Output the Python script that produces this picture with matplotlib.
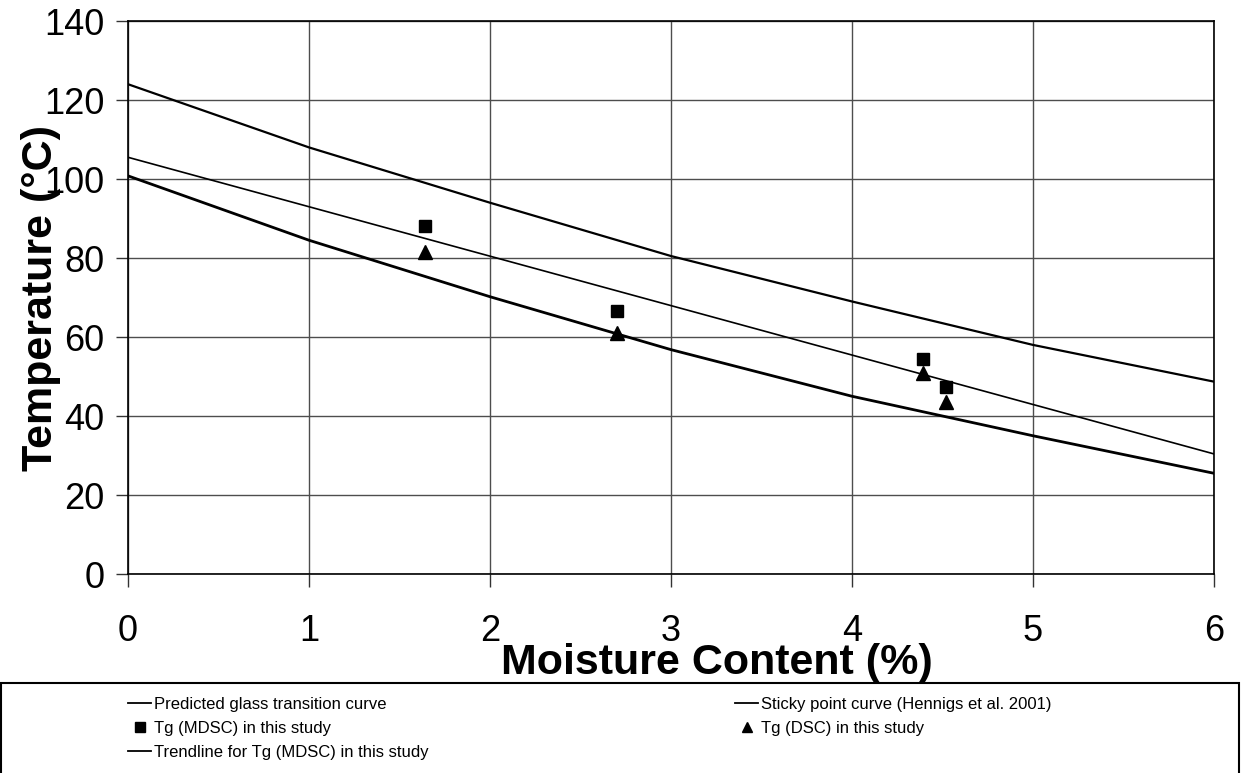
"""
Glass transition and sticky point temperatures vs moisture content
"""

import matplotlib
matplotlib.use('Agg')
import matplotlib.pyplot as plt
import matplotlib.patches as patches

plt.rcParams['font.family'] = ['Liberation Sans', 'DejaVu Sans']

# curves read at whole-number moisture contents (%)
moisture = [0, 1, 2, 3, 4, 5, 6]
tg_predicted = [100.8, 84.5, 70.2, 56.8, 45.0, 35.0, 25.5]
sticky_point = [124.0, 108.0, 94.0, 80.5, 69.0, 58.0, 48.7]

# linear trendline through the MDSC results
trend_x = [0, 6]
trend_y = [105.5, 30.4]

# measured points
sample_moisture = [1.64, 2.70, 4.39, 4.52]
tg_mdsc = [88.1, 66.6, 54.4, 47.4]
tg_dsc = [81.5, 61.0, 50.8, 43.6]

x_ticks = [0, 1, 2, 3, 4, 5, 6]
y_ticks = [0, 20, 40, 60, 80, 100, 120, 140]

fig = plt.figure(figsize=(12.48, 7.73), dpi=100)
ax = fig.add_axes([0.1026, 0.2574, 0.8702, 0.7154])

ax.set_xlim(0, 6)
ax.set_ylim(0, 140)
ax.set_xticks(x_ticks)
ax.set_yticks(y_ticks)
ax.grid(True, color='0.3', linewidth=1.0)
ax.set_axisbelow(True)
for s in ax.spines.values():
    s.set_linewidth(1.2)
    s.set_color('black')

ax.tick_params(axis='both', direction='out', length=9, width=1.0,
               labelsize=26, color='0.2')
ax.tick_params(axis='y', pad=8)
ax.tick_params(axis='x', pad=20)

l_pred, = ax.plot(moisture, tg_predicted, color='black', linewidth=2.0,
                  label='Predicted glass transition curve')
l_sticky, = ax.plot(moisture, sticky_point, color='black', linewidth=1.6,
                    label='Sticky point curve (Hennigs et al. 2001)')
l_trend, = ax.plot(trend_x, trend_y, color='black', linewidth=1.2,
                   label='Trendline for Tg (MDSC) in this study')
p_mdsc, = ax.plot(sample_moisture, tg_mdsc, linestyle='none', marker='s',
                  markersize=9, color='black', label='Tg (MDSC) in this study')
p_dsc, = ax.plot(sample_moisture, tg_dsc, linestyle='none', marker='^',
                 markersize=9.5, color='black', label='Tg (DSC) in this study')

ax.set_ylabel('Temperature (°C)', fontsize=31, fontweight='bold')
ax.yaxis.set_label_coords(-0.062, 0.5)
ax.set_xlabel('Moisture Content (%)', fontsize=31, fontweight='bold', va='top')
ax.xaxis.set_label_coords(0.542, -0.124)

# legend box under the plot
cadre = patches.Rectangle((0.001, -0.02), 0.992, 0.137, transform=fig.transFigure,
                          facecolor='none', edgecolor='black', linewidth=1.5)
fig.patches.append(cadre)

opts = dict(loc='upper left', bbox_transform=fig.transFigure, frameon=False,
            fontsize=12, borderpad=0, borderaxespad=0, handlelength=1.4,
            handletextpad=0.15, labelspacing=0.54)
leg1 = fig.legend(handles=[l_pred, p_mdsc, l_trend],
                  bbox_to_anchor=(0.1026, 0.098), **opts)
leg2 = fig.legend(handles=[l_sticky, p_dsc],
                  bbox_to_anchor=(0.589, 0.098), **opts)
for leg in (leg1, leg2):
    for h in leg.legend_handles:
        if h.get_marker() not in (None, 'None', ''):
            h.set_markersize(7)
        else:
            h.set_linewidth(1.3)

fig.savefig('out.png', dpi=100)
